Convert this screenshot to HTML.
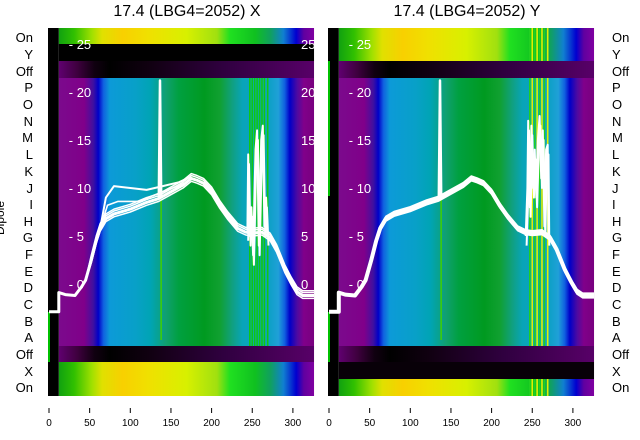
<!DOCTYPE html>
<html><head><meta charset="utf-8"><style>
body{margin:0;background:#fff;width:640px;height:440px;overflow:hidden}
svg{display:block;font-family:"Liberation Sans","DejaVu Sans",sans-serif}
</style></head><body>
<svg id="s" width="640" height="440" viewBox="0 0 640 440" xmlns="http://www.w3.org/2000/svg">
<defs>
<linearGradient id="gm" x1="0" x2="1" y1="0" y2="0">
<stop offset="0" stop-color="#7b0a8c"/><stop offset="0.1" stop-color="#80008a"/><stop offset="0.135" stop-color="#4010a0"/>
<stop offset="0.155" stop-color="#0000c8"/><stop offset="0.175" stop-color="#1060e0"/><stop offset="0.2" stop-color="#0c9ad8"/>
<stop offset="0.3" stop-color="#08a0c8"/><stop offset="0.36" stop-color="#00a4b4"/><stop offset="0.42" stop-color="#10a070"/>
<stop offset="0.47" stop-color="#00a040"/><stop offset="0.57" stop-color="#009a20"/><stop offset="0.63" stop-color="#10a030"/>
<stop offset="0.68" stop-color="#10a080"/><stop offset="0.72" stop-color="#08a4b8"/><stop offset="0.83" stop-color="#10a0c8"/>
<stop offset="0.86" stop-color="#20a0d8"/><stop offset="0.885" stop-color="#1060e0"/><stop offset="0.905" stop-color="#0000c8"/>
<stop offset="0.935" stop-color="#500aa0"/><stop offset="0.96" stop-color="#80008a"/><stop offset="1" stop-color="#78007e"/>
</linearGradient>
<linearGradient id="gy" x1="0" x2="1" y1="0" y2="0">
<stop offset="0" stop-color="#10a010"/><stop offset="0.06" stop-color="#30c000"/><stop offset="0.13" stop-color="#a0e000"/>
<stop offset="0.17" stop-color="#e0e000"/><stop offset="0.25" stop-color="#f8d000"/><stop offset="0.35" stop-color="#f0e000"/>
<stop offset="0.5" stop-color="#d8f000"/><stop offset="0.62" stop-color="#a0e010"/><stop offset="0.67" stop-color="#20e020"/>
<stop offset="0.77" stop-color="#10c020"/><stop offset="0.83" stop-color="#10a060"/><stop offset="0.88" stop-color="#1080d0"/>
<stop offset="0.93" stop-color="#0000d0"/><stop offset="0.96" stop-color="#6000a0"/><stop offset="1" stop-color="#8000a0"/>
</linearGradient>
<linearGradient id="go" x1="0" x2="1" y1="0" y2="0">
<stop offset="0" stop-color="#600070"/><stop offset="0.07" stop-color="#400040"/><stop offset="0.14" stop-color="#100010"/>
<stop offset="0.2" stop-color="#000000"/><stop offset="0.35" stop-color="#100010"/><stop offset="0.65" stop-color="#300040"/>
<stop offset="1" stop-color="#580068"/>
</linearGradient>
<clipPath id="c1"><rect x="48" y="28" width="267" height="368"/></clipPath>
<clipPath id="c2"><rect x="328" y="28" width="267" height="368"/></clipPath>
</defs>
<text x="187" y="16" font-size="16" text-anchor="middle">17.4 (LBG4=2052) X</text>
<text x="467" y="16" font-size="16" text-anchor="middle">17.4 (LBG4=2052) Y</text>
<g font-size="13" text-anchor="end">
<text x="33" y="42">On</text><text x="33" y="59">Y</text><text x="33" y="76">Off</text><text x="33" y="92">P</text>
<text x="33" y="109">O</text><text x="33" y="126">N</text><text x="33" y="142">M</text><text x="33" y="159">L</text>
<text x="33" y="176">K</text><text x="33" y="193">J</text><text x="33" y="209">I</text><text x="33" y="226">H</text>
<text x="33" y="242">G</text><text x="33" y="259">F</text><text x="33" y="276">E</text><text x="33" y="292">D</text>
<text x="33" y="309">C</text><text x="33" y="326">B</text><text x="33" y="342">A</text><text x="33" y="359">Off</text>
<text x="33" y="376">X</text><text x="33" y="392">On</text>
</g>
<g font-size="13">
<text x="612" y="42">On</text><text x="612" y="59">Y</text><text x="612" y="76">Off</text><text x="612" y="92">P</text>
<text x="612" y="109">O</text><text x="612" y="126">N</text><text x="612" y="142">M</text><text x="612" y="159">L</text>
<text x="612" y="176">K</text><text x="612" y="193">J</text><text x="612" y="209">I</text><text x="612" y="226">H</text>
<text x="612" y="242">G</text><text x="612" y="259">F</text><text x="612" y="276">E</text><text x="612" y="292">D</text>
<text x="612" y="309">C</text><text x="612" y="326">B</text><text x="612" y="342">A</text><text x="612" y="359">Off</text>
<text x="612" y="376">X</text><text x="612" y="392">On</text>
</g>
<text transform="translate(4,218) rotate(-90)" font-size="12" text-anchor="middle">Dipole</text>
<g id="p1" clip-path="url(#c1)"></g>
<g id="p2" clip-path="url(#c2)"></g>
<g font-size="10" text-anchor="middle" id="ticks"></g>
</svg>
<script>
var NS="http://www.w3.org/2000/svg";
function el(p,t,a){var e=document.createElementNS(NS,t);for(var k in a)e.setAttribute(k,a[k]);p.appendChild(e);return e;}
function build(g,x0,left){
  var X=function(t){return x0+0.813*t;};
  var xs=X(12),w=X(326)-xs;
  el(g,"rect",{x:xs,y:78,width:w,height:268,fill:"url(#gm)"});
  if(left){
    el(g,"rect",{x:xs,y:28,width:w,height:16,fill:"url(#gy)"});
    el(g,"rect",{x:xs,y:44,width:w,height:17,fill:"#000"});
    el(g,"rect",{x:xs,y:61,width:w,height:17,fill:"url(#go)"});
    el(g,"rect",{x:xs,y:346,width:w,height:16,fill:"url(#go)"});
    el(g,"rect",{x:xs,y:362,width:w,height:34,fill:"url(#gy)"});
  } else {
    el(g,"rect",{x:xs,y:28,width:w,height:33,fill:"url(#gy)"});
    el(g,"rect",{x:xs,y:61,width:w,height:17,fill:"url(#go)"});
    el(g,"rect",{x:xs,y:346,width:w,height:16,fill:"url(#go)"});
    el(g,"rect",{x:xs,y:362,width:w,height:17,fill:"#080008"});
    el(g,"rect",{x:xs,y:379,width:w,height:17,fill:"url(#gy)"});
  }
  el(g,"rect",{x:x0-1,y:28,width:X(12)-x0+1,height:368,fill:"#000"});
  el(g,"rect",{x:x0-1,y:left?312:61,width:2,height:left?50:135,fill:"#00c000"});
  if(!left) el(g,"rect",{x:x0-1,y:312,width:2,height:50,fill:"#00c000"});
  var st=[246,249,252,255,258,261,264,268];
  st.forEach(function(t,i){
    var c=left?"#10c810":(i%2?"#e0f000":"#20d020");
    el(g,"rect",{x:X(t),y:78,width:1.6,height:268,fill:c});
    if(!left){el(g,"rect",{x:X(t),y:28,width:1.6,height:33,fill:c});el(g,"rect",{x:X(t),y:379,width:1.6,height:17,fill:c});}
  });
  el(g,"rect",{x:X(137),y:200,width:1.5,height:140,fill:"#40d000"});
  [25,20,15,10,5,0].forEach(function(v){
    var y=284-9.6*v+5;
    var t=el(g,"text",{x:X(12)+10,y:y,fill:"#fff","font-size":"13"});t.textContent="- "+v;
    if(left){var t2=el(g,"text",{x:X(310),y:y,fill:"#fff","font-size":"13"});t2.textContent=v;}
  });
  var Y=function(v){return 284-9.6*v;};
  var base=[[0,-2.9],[12,-2.9],[12,-0.9],[20,-1.1],[32,-1.2],[40,-0.3],[45,0.4],[52,2.5],[58,4.5],[63,5.8],[70,6.8],[80,7.3],[100,7.8],[120,8.5],[135,8.9],[150,9.6],[165,10.3],[175,11],[182,10.8],[190,10.5],[200,9.6],[210,8.2],[220,7],[232,5.8],[242,5.4],[250,5.3],[262,5.4],[272,4.8],[280,3.6],[290,1.5],[298,0.2],[305,-0.8],[312,-1.2],[326,-1.2]];
  function pl(pts,wd){var d=pts.map(function(p){return X(p[0]).toFixed(1)+","+Y(p[1]).toFixed(1);}).join(" ");
    el(g,"polyline",{points:d,fill:"none",stroke:"#fff","stroke-width":wd,"stroke-linejoin":"round"});}
  pl(base,left?3:4);
  var off=left?[0.3,-0.3,0.5]:[0.25,-0.25];
  off.forEach(function(o){pl(base.map(function(p){return [p[0],p[1]+(p[0]>50?o:0)];}),1.5);});
  if(left){
    pl([[63,5.8],[70,9],[80,10.2],[100,10],[120,9.8],[140,10.2],[160,10.6],[175,11.2]],2);
    pl([[63,5.8],[72,8.2],[85,8.6],[110,8.6],[140,9.6],[170,10.6]],1.6);
  }
  pl([[135,8.9],[136.5,21.2],[138,9]],2.5);
  var sp=left?[[244,5.5],[245,13.5],[247,5],[249,8],[251,3],[254,14],[256,16],[258,4],[261,15],[263,16.5],[265,6],[267,9],[269,5]]
             :[[242,5],[244,10],[245,17],[247,8],[249,16.5],[251,10],[253,14],[255,9],[257,15],[259,17.5],[261,11],[263,16],[265,6],[267,14],[269,14.5],[270,5]];
  pl(sp,2);
  pl(sp.map(function(p){return [p[0]+1,p[1]-1];}),2);
}
build(document.getElementById("p1"),49,true);
build(document.getElementById("p2"),329,false);
var tk=document.getElementById("ticks");
[[49],[329]].forEach(function(a){[0,50,100,150,200,250,300].forEach(function(t){
  var x=a[0]+0.813*t;
  el(tk,"line",{x1:x,x2:x,y1:408,y2:413,stroke:"#000","stroke-width":1});
  var tx=el(tk,"text",{x:x,y:426});tx.textContent=t;});});
</script>
</body></html>
